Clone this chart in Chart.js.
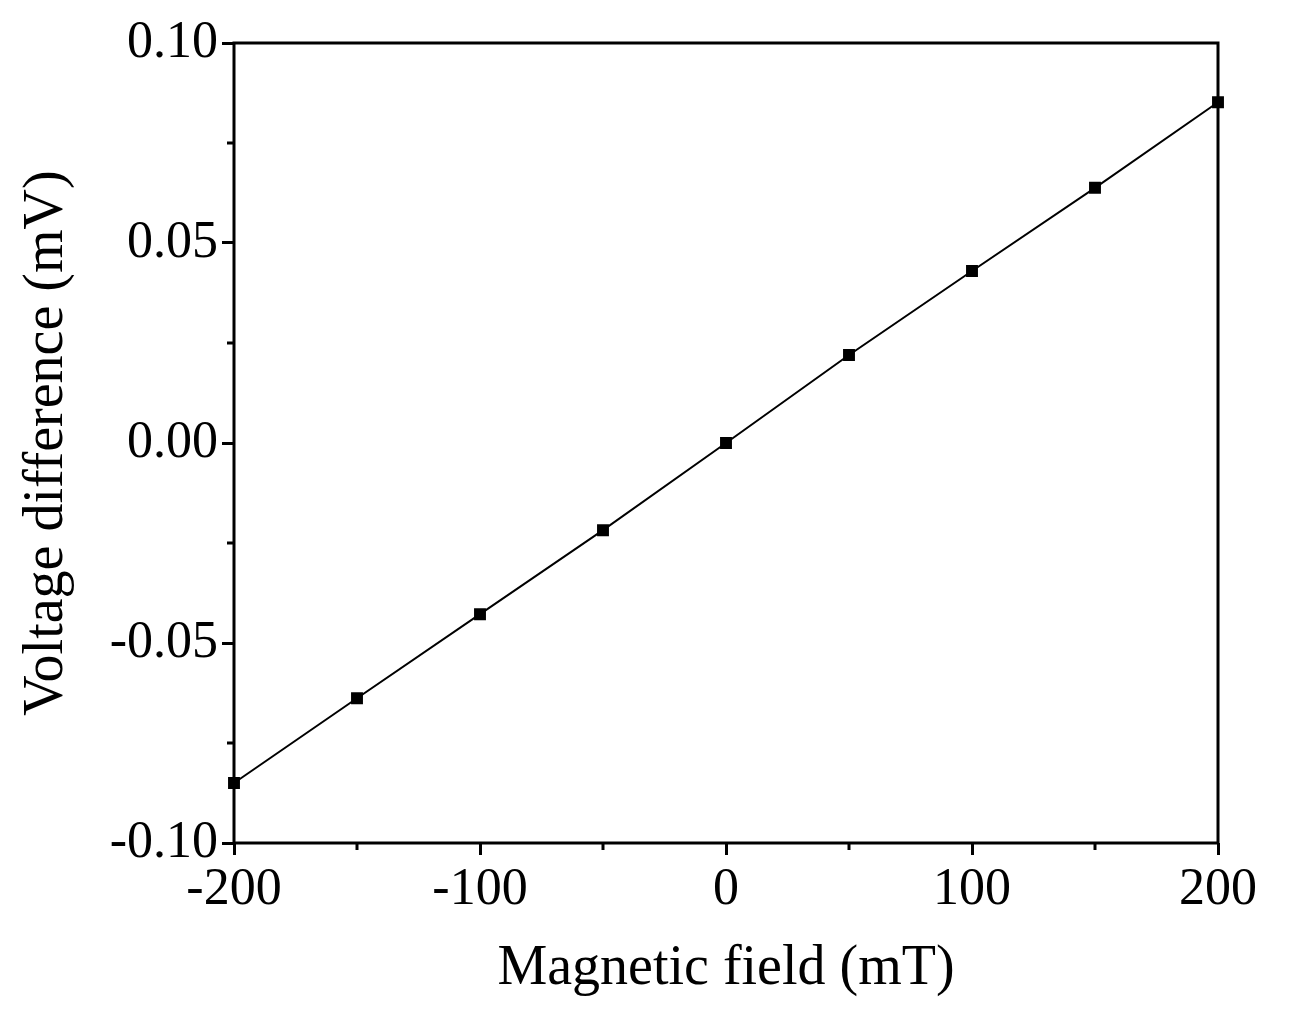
<!DOCTYPE html>
<html>
<head>
<meta charset="utf-8">
<script src="https://cdn.jsdelivr.net/npm/chart.js@4"></script>
<style>
  html, body { margin: 0; padding: 0; background: #fff; }
  #wrap { width: 1291px; height: 1019px; }
</style>
</head>
<body>
<div id="wrap"><canvas id="chart" width="1291" height="1019"></canvas></div>
<script>
const fieldValues = [-200, -150, -100, -50, 0, 50, 100, 150, 200];
const voltageValues = [-0.085, -0.0638, -0.0428, -0.0218, 0.0, 0.022, 0.043, 0.0638, 0.0852];
const xMajorTicks = [-200, -100, 0, 100, 200];
const yMajorTicks = [-0.10, -0.05, 0.00, 0.05, 0.10];
const xMinorTicks = [-150, -50, 50, 150];
const yMinorTicks = [-0.075, -0.025, 0.025, 0.075];

const font = "'Liberation Serif', 'Times New Roman', serif";

// малые засечки и рамка
const framePlugin = {
  id: 'frame',
  afterDraw(chart) {
    const { ctx, chartArea: a, scales } = chart;
    ctx.save();
    ctx.strokeStyle = '#000';
    ctx.lineWidth = 3;
    ctx.strokeRect(a.left, a.top, a.right - a.left, a.bottom - a.top);
    ctx.beginPath();
    xMinorTicks.forEach(v => {
      const px = scales.x.getPixelForValue(v);
      ctx.moveTo(px, a.bottom); ctx.lineTo(px, a.bottom + 7);
    });
    yMinorTicks.forEach(v => {
      const py = scales.y.getPixelForValue(v);
      ctx.moveTo(a.left, py); ctx.lineTo(a.left - 7, py);
    });
    ctx.stroke();
    ctx.restore();
  }
};

new Chart(document.getElementById('chart').getContext('2d'), {
  type: 'line',
  data: {
    datasets: [{
      data: fieldValues.map((x, i) => ({ x, y: voltageValues[i] })),
      borderColor: '#000',
      backgroundColor: '#000',
      borderWidth: 2,
      pointStyle: 'rect',
      pointRadius: 7,
      tension: 0,
      clip: false,
    }],
  },
  options: {
    responsive: false,
    animation: false,
    layout: { padding: { top: 43, right: 73, left: 0, bottom: 0 } },
    plugins: { legend: { display: false }, tooltip: { enabled: false } },
    scales: {
      x: {
        type: 'linear', min: -200, max: 200,
        afterBuildTicks: s => { s.ticks = xMajorTicks.map(value => ({ value })); },
        afterFit: s => { s.height = 176; },
        grid: { drawOnChartArea: false, tickLength: 12, tickWidth: 3, tickColor: '#000' },
        border: { display: false },
        ticks: { color: '#000', font: { family: font, size: 52 }, padding: 4, maxRotation: 0 },
        title: { display: true, text: 'Magnetic field (mT)', color: '#000', font: { family: font, size: 56 }, padding: { top: 0, bottom: 16 } },
      },
      y: {
        type: 'linear', min: -0.1, max: 0.1,
        afterBuildTicks: s => { s.ticks = yMajorTicks.map(value => ({ value })); },
        afterFit: s => { s.width = 234; },
        grid: { drawOnChartArea: false, tickLength: 12, tickWidth: 3, tickColor: '#000' },
        border: { display: false },
        ticks: { color: '#000', font: { family: font, size: 52 }, padding: 4, callback: v => v.toFixed(2) },
        title: { display: true, text: 'Voltage difference (mV)', color: '#000', font: { family: font, size: 56 }, padding: { top: 14, bottom: 0 } },
      },
    },
  },
  plugins: [framePlugin],
});
</script>
</body>
</html>
